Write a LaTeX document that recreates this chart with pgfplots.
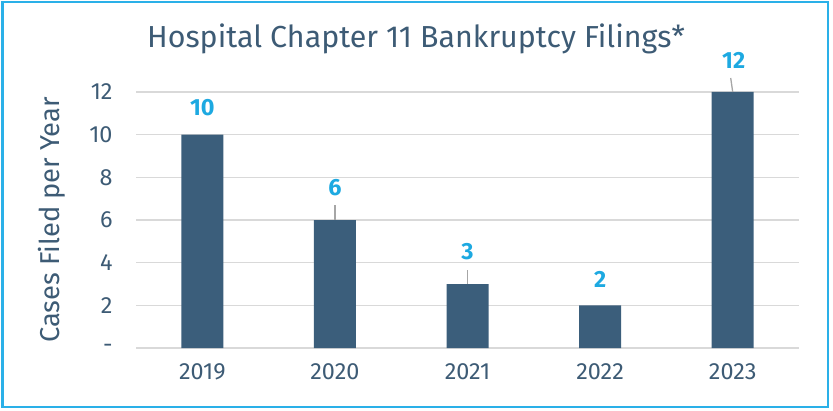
\documentclass[border=0pt]{standalone}
\usepackage{pgfplots}
\pgfplotsset{compat=1.18}
\usepackage{fontspec}
\setmainfont{Fira Sans}
\definecolor{barc}{HTML}{3B5E7B}
\definecolor{txtc}{HTML}{3D5B75}
\definecolor{labc}{HTML}{1DA9E1}
\definecolor{gridc}{HTML}{D9D9D9}
\definecolor{framec}{HTML}{2AB0E8}
\definecolor{leadc}{HTML}{A6A6A6}
\begin{document}
\begin{tikzpicture}[x=1bp,y=1bp]
\path (0,0) rectangle (833,410);
\draw[framec, line width=2bp] (2.5,3) rectangle (828,407.5);
\begin{axis}[
  at={(136bp,62bp)}, anchor=south west,
  scale only axis, width=663bp, height=256bp,
  xmin=-0.5, xmax=4.5, ymin=0, ymax=12,
  clip=false,
  axis line style={draw=none},
  tick style={draw=none},
  ymajorgrids,
  major grid style={gridc, line width=1.6bp},
  ytick={0,2,4,6,8,10,12},
  yticklabels={-,2,4,6,8,10,12},
  xtick={0,1,2,3,4},
  xticklabels={2019,2020,2021,2022,2023},
  ticklabel style={font=\fontsize{23.5}{27}\selectfont, text=txtc},
  yticklabel style={xshift=-20bp},
  xticklabel style={yshift=-12bp},
  ylabel={Cases Filed per Year},
  every axis y label/.style={at={(rel axis cs:0,0.5)}, rotate=90, anchor=center, yshift=84.5bp, font=\fontsize{27.4}{31}\selectfont, text=txtc},
  title={Hospital Chapter 11 Bankruptcy Filings*},
  every axis title/.style={at={(rel axis cs:0.4223,1)}, anchor=base, yshift=44bp, font=\fontsize{30.5}{35}\selectfont, text=txtc},
]
\addplot[ybar, bar width=42bp, fill=barc, draw=none] coordinates {(0,10) (1,6) (2,3) (3,2) (4,12)};
\draw[leadc, line width=1.3bp] (axis cs:1,6) -- ([yshift=15bp]axis cs:1,6);
\draw[leadc, line width=1.3bp] (axis cs:2,3) -- ([yshift=14bp]axis cs:2,3);
\draw[leadc, line width=1.3bp] (axis cs:4,12) -- ([xshift=-2bp,yshift=14bp]axis cs:4,12);
\begin{scope}[every node/.style={font=\bfseries\fontsize{23.5}{27}\selectfont, text=labc, anchor=center}]
\node[yshift=27bp] at (axis cs:0,10) {10};
\node[yshift=32bp] at (axis cs:1,6) {6};
\node[yshift=32bp] at (axis cs:2,3) {3};
\node[yshift=26bp] at (axis cs:3,2) {2};
\node[yshift=32bp, xshift=1bp] at (axis cs:4,12) {12};
\end{scope}
\end{axis}
\end{tikzpicture}
\end{document}
